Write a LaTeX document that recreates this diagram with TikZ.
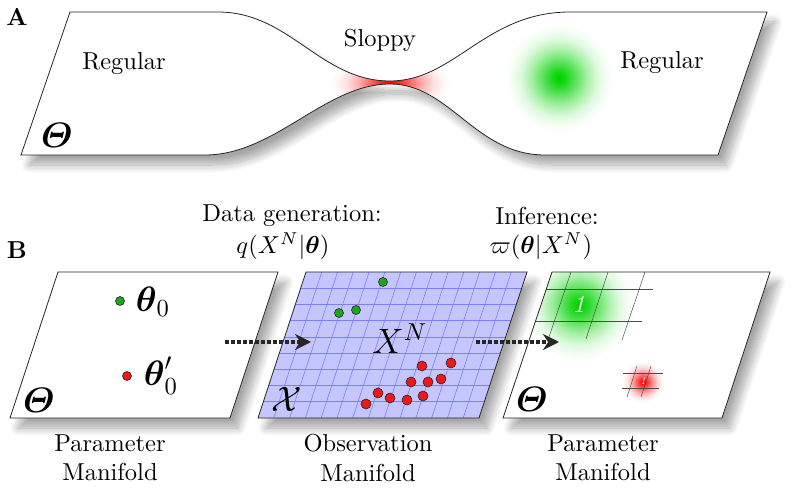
\documentclass[tikz,border=0pt]{standalone}
\usepackage{amsmath}
\usepackage{fontspec}
\usetikzlibrary{arrows.meta,shadows.blur}
\definecolor{gcore}{RGB}{0,210,0}
\definecolor{rcore}{RGB}{255,0,0}
\definecolor{gridfill}{RGB}{198,198,255}
\definecolor{gridblue}{RGB}{125,125,250}
\definecolor{dotgreen}{RGB}{30,165,30}
\definecolor{dotred}{RGB}{235,25,25}
\pgfdeclareradialshading{glowG}{\pgfpointorigin}{color(0bp)=(gcore); color(3bp)=(gcore!90!white); color(8bp)=(gcore!62!white); color(13bp)=(gcore!34!white); color(18bp)=(gcore!13!white); color(22bp)=(gcore!4!white); color(25bp)=(white); color(50bp)=(white)}
\pgfdeclareradialshading{glowR}{\pgfpointorigin}{color(0bp)=(rcore); color(3bp)=(rcore!90!white); color(8bp)=(rcore!62!white); color(13bp)=(rcore!34!white); color(18bp)=(rcore!13!white); color(22bp)=(rcore!4!white); color(25bp)=(white); color(50bp)=(white)}
\newcommand\PathA{(21,155) -- (70,12) -- (218,12) .. controls (290,12) and (320,81) .. (390,81) .. controls (455,81) and (485,12) .. (570,12) -- (767,12) -- (718,155) -- (545,155) .. controls (475,155) and (450,84) .. (390,84) .. controls (325,84) and (275,155) .. (205,155) -- cycle}
\newcommand\PathL{(10,418) -- (230,418) -- (278,272) -- (58,272) -- cycle}
\newcommand\PathM{(258,418) -- (479,418) -- (527,272) -- (306,272) -- cycle}
\newcommand\PathR{(503,418) -- (722,418) -- (770,272) -- (552,272) -- cycle}
\begin{document}
\begin{tikzpicture}[x=1pt,y=-1pt,
 lbl/.style={font=\normalsize, scale=2.45, transform shape, align=center, inner sep=0pt},
 bigm/.style={font=\Large, scale=2.45, transform shape, inner sep=0pt},
 panelshadow/.style={blur shadow={shadow xshift=8pt, shadow yshift=-10pt, shadow blur radius=8pt, shadow blur steps=14, shadow opacity=35}},
 edgeline/.style={draw=black!85, line width=0.8},
 gridline/.style={draw=gridblue, line width=0.6},
 thingrid/.style={draw=black!70, line width=0.5},
 gdot/.style={circle, draw=black!85, line width=0.6, fill=dotgreen, minimum size=9pt, inner sep=0pt},
 rdot/.style={circle, draw=black!85, line width=0.6, fill=dotred, minimum size=10pt, inner sep=0pt},
 flow/.style={draw=black!85, line width=3.4, dash pattern=on 3.5pt off 2.5pt, -{Stealth[length=16pt, width=16pt]}}]
\useasboundingbox (0,0) rectangle (795,494);
% ---------------- Panel A
\fill[white, panelshadow] \PathA;
\begin{scope}
  \clip \PathA;
  \shade[shading=glowR] (390,83) ellipse [x radius=60, y radius=28];
  \shade[shading=glowG] (559,78) circle [radius=54];
\end{scope}
\path[edgeline] \PathA;
\node[lbl, font=\normalsize\bfseries] (lA) at (17,17) {A};
\node[lbl] (reg1) at (124,64) {Regular};
\node[lbl] (slop) at (380,40) {Sloppy};
\node[lbl] (reg2) at (662,63) {Regular};
\node[bigm] (thA) at (57,135) {$\boldsymbol{\varTheta}$};
% ---------------- Panel B
\node[lbl, font=\normalsize\bfseries] (lB) at (17,250) {B};
\node[lbl] (dgen) at (292,216) {Data generation:};
\node[lbl] (qfun) at (283,246) {$q(X^N|\boldsymbol{\theta})$};
\node[lbl] (infr) at (547,216) {Inference:};
\node[lbl] (pfun) at (541,246) {$\varpi(\boldsymbol{\theta}|X^N)$};
% left panel
\fill[white, panelshadow] \PathL;
\path[edgeline] \PathL;
\node[gdot] (t0) at (120,301) {};
\node[rdot, minimum size=9pt] (t1) at (127,376) {};
\node[bigm] (th0) at (153,302) {$\boldsymbol{\theta}_0$};
\node[bigm] (th1) at (161,376) {$\boldsymbol{\theta}'_0$};
\node[bigm] (thL) at (39,400) {$\boldsymbol{\varTheta}$};
\node[lbl] (capL) at (110,458) {Parameter\\Manifold};
% middle panel
\fill[gridfill, panelshadow] \PathM;
\foreach \i in {1,...,13} \draw[gridline] ({258+\i*221/14},418) -- ({306+\i*221/14},272);
\foreach \j in {1,...,8} \draw[gridline] ({258+\j*48/9},{418-\j*146/9}) -- ({479+\j*48/9},{418-\j*146/9});
\path[edgeline] \PathM;
\node[gdot] (g1) at (383,282) {};
\node[gdot] (g2) at (339,313) {};
\node[gdot] (g3) at (356,310) {};
\node[rdot] (r1) at (422,366) {};
\node[rdot] (r2) at (451,363) {};
\node[rdot] (r3) at (411,382) {};
\node[rdot] (r4) at (428,382) {};
\node[rdot] (r5) at (441,379) {};
\node[rdot] (r6) at (378,393) {};
\node[rdot] (r7) at (390,398) {};
\node[rdot] (r8) at (407,400) {};
\node[rdot] (r9) at (423,396) {};
\node[rdot] (r10) at (366,404) {};
\node[bigm] (XN) at (400,339) {$X^{N}$};
\node[bigm] (calX) at (287,399) {$\mathcal{X}$};
\node[lbl] (capM) at (368,458) {Observation\\Manifold};
% right panel
\fill[white, panelshadow] \PathR;
\begin{scope}
  \clip \PathR;
  \shade[shading=glowG] (579,305) circle [radius=56];
  \shade[shading=glowR] (643,382) circle [radius=21];
  \draw[thingrid] (540,289) -- (653,289);
  \draw[thingrid] (530,321) -- (642,321);
  \draw[thingrid] (571,272) -- (549,337);
  \draw[thingrid] (608,272) -- (586,339);
  \draw[thingrid] (645,272) -- (622,340);
  \draw[thingrid] (623,373) -- (663,373);
  \draw[thingrid] (622,388) -- (659,388);
  \draw[thingrid] (637,366) -- (627,397);
  \draw[thingrid] (651,366) -- (641,397);
\end{scope}
\path[edgeline] \PathR;
\node[lbl, text=white] (one1) at (579,304) {\itshape 1};
\node[text=white, inner sep=0pt, font=\fontsize{10.5}{12}\selectfont\itshape] (one2) at (643,381) {1};
\node[bigm] (thR) at (532,399) {$\boldsymbol{\varTheta}$};
\node[lbl] (capR) at (603,458) {Parameter\\Manifold};
% arrows
\coordinate (a1s) at (225,342);
\coordinate (a1e) at (311,342);
\coordinate (a2s) at (476,342);
\coordinate (a2e) at (559,342);
\draw[flow] (a1s) -- (a1e);
\draw[flow] (a2s) -- (a2e);
\end{tikzpicture}
\end{document}
